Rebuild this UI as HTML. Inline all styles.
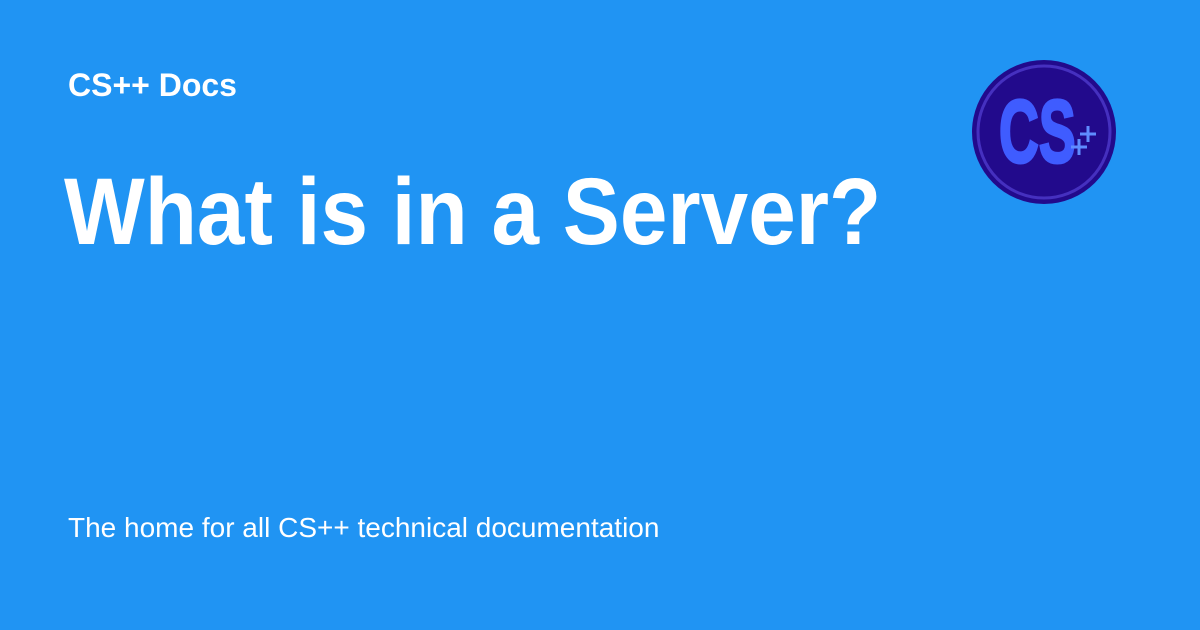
<!DOCTYPE html>
<html><head><style>
body{margin:0;width:1200px;height:630px;background:#2094f3;font-family:"Liberation Sans",sans-serif;color:#fff;position:relative;overflow:hidden}
.t{position:absolute;white-space:nowrap}
</style></head><body>
<div class="t" style="left:68px;top:67px;font-size:32px;font-weight:bold">CS++ Docs</div>
<div class="t" style="left:64px;top:158px;font-size:95px;font-weight:bold;transform:scaleX(0.9);transform-origin:0 0">What is in a Server?</div>
<div class="t" style="left:68px;top:512px;font-size:28px">The home for all CS++ technical documentation</div>
<svg style="position:absolute;left:0;top:0" width="1200" height="630">
<circle cx="1044" cy="132" r="72" fill="#220a8c"/>
<circle cx="1044" cy="132" r="66" fill="none" stroke="#4530bf" stroke-width="3"/>
<text x="0" y="0" transform="translate(999,162) scale(0.62,1)" font-family="Liberation Sans" font-weight="bold" font-size="89" fill="#3f5cff" stroke="#3f5cff" stroke-width="3">CS</text>
<g stroke="#5f8cff" stroke-width="3">
<line x1="1080" y1="134" x2="1096" y2="134"/><line x1="1088" y1="126" x2="1088" y2="142"/>
<line x1="1071" y1="147" x2="1087" y2="147"/><line x1="1079" y1="139" x2="1079" y2="155"/>
</g>
</svg>
</body></html>
